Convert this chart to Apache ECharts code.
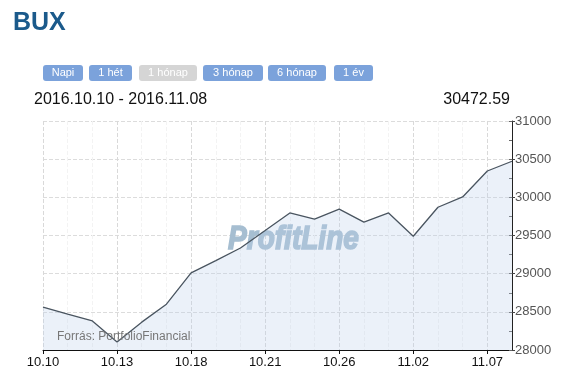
<!DOCTYPE html>
<html>
<head>
<meta charset="utf-8">
<script src="https://cdn.jsdelivr.net/npm/echarts@6/dist/echarts.min.js"></script>
<style>html,body{margin:0;padding:0;background:#fff;}#c{width:564px;height:384px;}</style>
</head>
<body>
<div id="c"></div>
<script>
const dates = ['10.10','10.11','10.12','10.13','10.14','10.17','10.18','10.19','10.20','10.21',
               '10.24','10.25','10.26','10.27','10.28','11.02','11.03','11.04','11.07','11.08'];
const values = [28563, 28470, 28380, 28105, 28365, 28600, 29010, 29170, 29336, 29565,
                29795, 29715, 29845, 29675, 29795, 29490, 29870, 30005, 30345, 30472.59];
const yTicks = [28000, 28500, 29000, 29500, 30000, 30500, 31000];
const buttons = ['Napi', '1 hét', '1 hónap', '3 hónap', '6 hónap', '1 év'];
const activeButton = '1 hónap';

const chart = echarts.init(document.getElementById('c'), null, {renderer: 'canvas'});
const FONT = 'Liberation Sans, Arial, sans-serif';
const btnX = [43, 89, 139, 203, 268, 334];
const btnW = [40, 43, 58, 60, 58, 39];
const graphics = [
  {type: 'text', left: 13, top: 11, style: {text: 'BUX', font: 'bold 25px ' + FONT, fill: '#1b5a8b'}},
  {type: 'text', left: 34, top: 92, style: {text: '2016.' + dates[0] + ' - 2016.' + dates[dates.length-1], font: '16px ' + FONT, fill: '#111'}},
  {type: 'text', right: 54, top: 92, style: {text: values[values.length-1].toFixed(2), font: '16px ' + FONT, fill: '#111', textAlign: 'right'}},
  {type: 'text', x: 228, y: 223, scaleX: 0.85, z: 1, style: {text: 'ProfitLine', font: 'italic bold 33px ' + FONT, fill: '#a6bed1', stroke: '#a6bed1', lineWidth: 1.6}},
  {type: 'text', left: 57, top: 331, z: 5, style: {text: 'Forrás: PortfolioFinancial', font: '12px ' + FONT, fill: '#777'}}
];
buttons.forEach((b, i) => {
  const active = b === activeButton;
  graphics.push({
    type: 'rect', shape: {x: btnX[i], y: 65, width: btnW[i], height: 16, r: 3},
    style: {fill: active ? '#d5d5d5' : '#7ba2db'}
  });
  graphics.push({
    type: 'text', x: btnX[i] + btnW[i] / 2, y: 73,
    style: {text: b, font: '11px ' + FONT, fill: '#fff', textAlign: 'center', textVerticalAlign: 'middle'}
  });
});

chart.setOption({
  animation: false,
  grid: {left: 43, right: 52, top: 121, bottom: 34},
  graphic: graphics,
  xAxis: {
    type: 'category', data: dates, boundaryGap: false,
    axisLine: {lineStyle: {color: '#111', width: 1}},
    axisTick: {show: true, length: 4, interval: (i) => i % 3 === 0, lineStyle: {color: '#111'}},
    axisLabel: {interval: (i) => i % 3 === 0, color: '#111', fontSize: 13, fontFamily: FONT, margin: 6},
    splitLine: {show: true, interval: 0, lineStyle: {type: 'dashed', color: ['#d9d9d9', '#f3f3f3', '#f3f3f3']}}
  },
  yAxis: [{
    type: 'value', position: 'right', min: yTicks[0], max: yTicks[yTicks.length-1], interval: 500,
    axisLine: {show: true, lineStyle: {color: '#222'}},
    axisTick: {show: true, length: 3, lineStyle: {color: '#444'}},
    axisLabel: {color: '#555', fontSize: 13, fontFamily: FONT, margin: 3, formatter: (v) => String(v)},
    splitLine: {show: true, lineStyle: {type: 'dashed', color: '#dcdcdc'}}
  }, {
    type: 'value', position: 'right', min: yTicks[0], max: yTicks[yTicks.length-1], interval: 250,
    axisLine: {show: false},
    axisTick: {show: true, inside: true, length: 3, lineStyle: {color: '#666'}},
    axisLabel: {show: false},
    splitLine: {show: false}
  }],
  series: [{
    type: 'line', data: values, symbol: 'none', z: 3,
    lineStyle: {color: '#4a5560', width: 1.3},
    areaStyle: {color: 'rgba(188,208,233,0.42)', origin: 'start'}
  }]
});
</script>
</body>
</html>
